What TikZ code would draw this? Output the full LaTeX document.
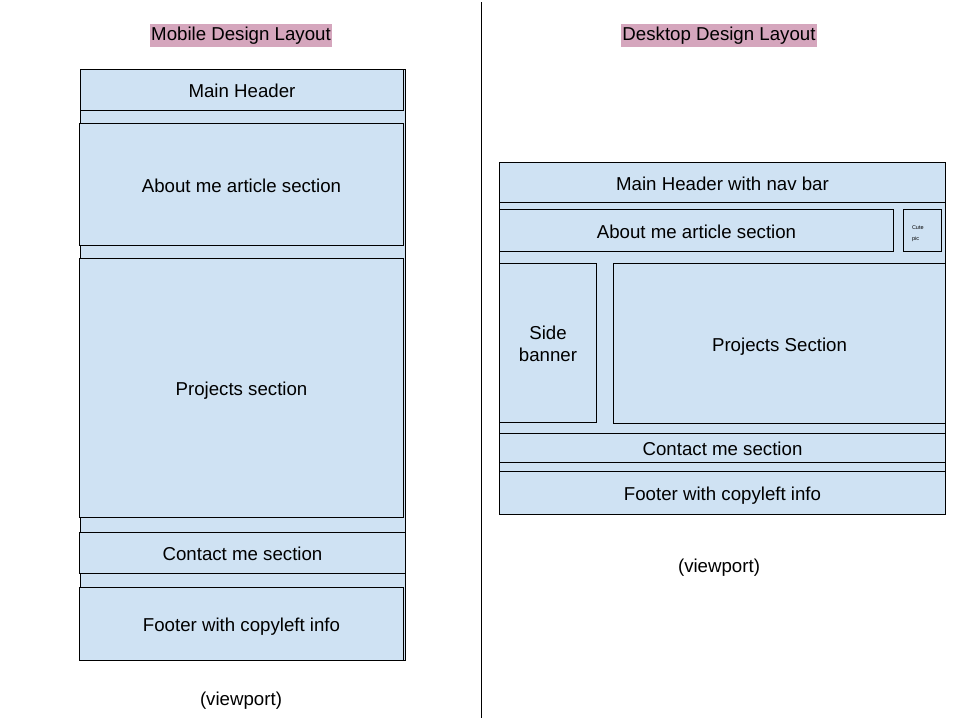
\documentclass[tikz,border=0pt]{standalone}
\usepackage{fontspec}
\setmainfont{Liberation Sans}
\definecolor{boxblue}{HTML}{CFE2F3}
\definecolor{hilite}{HTML}{D5A6BD}
\begin{document}
\begin{tikzpicture}[x=1pt,y=-1pt,
  every node/.style={font=\fontsize{18.67}{22}\selectfont, text=black},
  panel/.style={draw=black, line width=1pt, fill=boxblue, anchor=north west, inner sep=0pt, align=center},
  oneline/.style={text height=15.5pt, text depth=0pt},
  titlebox/.style={fill=hilite, inner xsep=1pt, inner ysep=0pt, minimum height=23pt},
  plain/.style={inner sep=0pt, oneline},
  divider/.style={draw=black, line width=1pt}]
\useasboundingbox (0,0) rectangle (960,720);

% titles
\node[titlebox] (mtitle) at (241,35.2) {Mobile Design Layout};
\node[titlebox] (dtitle) at (719,35.2) {Desktop Design Layout};

% divider
\coordinate (dtop) at (481,2);
\coordinate (dbot) at (481,718);
\draw[divider] (dtop) -- (dbot);

% mobile layout
\node[panel, minimum width=325pt, minimum height=591pt] (mview) at (80,69) {};
\node[panel, oneline, minimum width=323pt, minimum height=41pt] (mhead) at (80,69) {Main Header};
\node[panel, oneline, minimum width=324pt, minimum height=122pt] (mabout) at (79,123) {About me article section};
\node[panel, oneline, minimum width=324pt, minimum height=259pt] (mproj) at (79,258) {Projects section};
\node[panel, oneline, minimum width=326pt, minimum height=41pt] (mcontact) at (79,532) {Contact me section};
\node[panel, oneline, minimum width=324pt, minimum height=73pt] (mfoot) at (79,587) {Footer with copyleft info};
\node[plain] (mvp) at (241,698) {(viewport)};

% desktop layout
\node[panel, minimum width=446pt, minimum height=352pt] (dview) at (499,162) {};
\node[panel, oneline, minimum width=446pt, minimum height=40pt] (dhead) at (499,162) {Main Header with nav bar};
\node[panel, oneline, minimum width=394pt, minimum height=42pt] (dabout) at (499,209) {About me article section};
\node[panel, minimum width=38pt, minimum height=42pt, text width=21pt, inner xsep=8.5pt, align=left,
      font=\fontsize{5.5}{11}\selectfont, text height=11pt] (dcute) at (903,209) {Cute\\pic};
\node[panel, minimum width=97pt, minimum height=159pt, text height=37.6pt] (dside) at (499,263) {Side\\banner};
\node[panel, oneline, minimum width=332pt, minimum height=160pt] (dproj) at (613,263) {Projects Section};
\node[panel, oneline, minimum width=446pt, minimum height=29pt] (dcontact) at (499,433) {Contact me section};
\node[panel, oneline, minimum width=446pt, minimum height=43pt] (dfoot) at (499,471) {Footer with copyleft info};
\node[plain] (dvp) at (719,565) {(viewport)};
\end{tikzpicture}
\end{document}
